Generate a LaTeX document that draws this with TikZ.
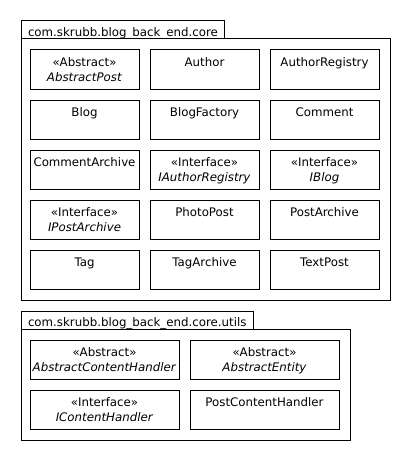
\documentclass[tikz,border=0pt]{standalone}
\usepackage{fontspec}
\setmainfont{DejaVu Sans}
\usepackage{tikz}
\usetikzlibrary{positioning}

\begin{document}
\begin{tikzpicture}[
  x=1pt, y=-1pt,
  %% styles
  pkgtab/.style={rectangle, draw=black, line width=1pt, fill=white,
                 anchor=north west, minimum height=18pt,
                 inner xsep=7pt, inner ysep=0pt,
                 text height=15.8pt, text depth=2.2pt,
                 font=\fontsize{11.8}{15}\selectfont},
  pkgbody/.style={rectangle, draw=black, line width=1pt,
                  anchor=north west, inner sep=0pt},
  cls/.style={rectangle, draw=black, line width=1pt,
              minimum height=39pt, inner sep=0pt, align=center,
              text height=16.5pt, text depth=22.5pt,
              font=\fontsize{11.8}{15}\selectfont},
  two/.style={text height=31.5pt, text depth=7.5pt},
  clsa/.style={cls, minimum width=109pt},
  clsb/.style={cls, minimum width=149pt},
]
\useasboundingbox (0,0) rectangle (410,460);

%%
%% column / row centres
%%
\def\Ca{84.5}  \def\Cb{204.5} \def\Cc{324.5}
\def\Ra{69.5}  \def\Rb{119.5} \def\Rc{169.5} \def\Rd{219.5} \def\Re{269.5}
\def\Ua{104.5} \def\Ub{264.5}
\def\Sa{359.5} \def\Sb{409.5}

%% ------ package core ---------------------------------------------------
\node[pkgtab] (coretab) at (20.5,20.5) {com.skrubb.blog\_back\_end.core};
\node[pkgbody, minimum width=369pt, minimum height=261pt]
  (core) at (20.5,38.5) {};

\node[clsa, two] (abspost)  at (\Ca,\Ra) {«Abstract»\\\textit{AbstractPost}};
\node[clsa] (author)   at (\Cb,\Ra) {Author};
\node[clsa] (authreg)  at (\Cc,\Ra) {AuthorRegistry};

\node[clsa] (blog)     at (\Ca,\Rb) {Blog};
\node[clsa] (blogfac)  at (\Cb,\Rb) {BlogFactory};
\node[clsa] (comment)  at (\Cc,\Rb) {Comment};

\node[clsa] (comarch)  at (\Ca,\Rc) {CommentArchive};
\node[clsa, two] (iauthreg) at (\Cb,\Rc) {«Interface»\\\textit{IAuthorRegistry}};
\node[clsa, two] (iblog)    at (\Cc,\Rc) {«Interface»\\\textit{IBlog}};

\node[clsa, two] (ipostarch) at (\Ca,\Rd) {«Interface»\\\textit{IPostArchive}};
\node[clsa] (photopost) at (\Cb,\Rd) {PhotoPost};
\node[clsa] (postarch)  at (\Cc,\Rd) {PostArchive};

\node[clsa] (tag)      at (\Ca,\Re) {Tag};
\node[clsa] (tagarch)  at (\Cb,\Re) {TagArchive};
\node[clsa] (textpost) at (\Cc,\Re) {TextPost};

%% ------ package core.utils ---------------------------------------------
\node[pkgtab] (utiltab) at (20.5,310.5) {com.skrubb.blog\_back\_end.core.utils};
\node[pkgbody, minimum width=329pt, minimum height=111pt]
  (utils) at (20.5,328.5) {};

\node[clsb, two] (abshandler) at (\Ua,\Sa) {«Abstract»\\\textit{AbstractContentHandler}};
\node[clsb, two] (absentity)  at (\Ub,\Sa) {«Abstract»\\\textit{AbstractEntity}};
\node[clsb, two] (ihandler)   at (\Ua,\Sb) {«Interface»\\\textit{IContentHandler}};
\node[clsb] (posthandler) at (\Ub,\Sb) {PostContentHandler};

\end{tikzpicture}
\end{document}
